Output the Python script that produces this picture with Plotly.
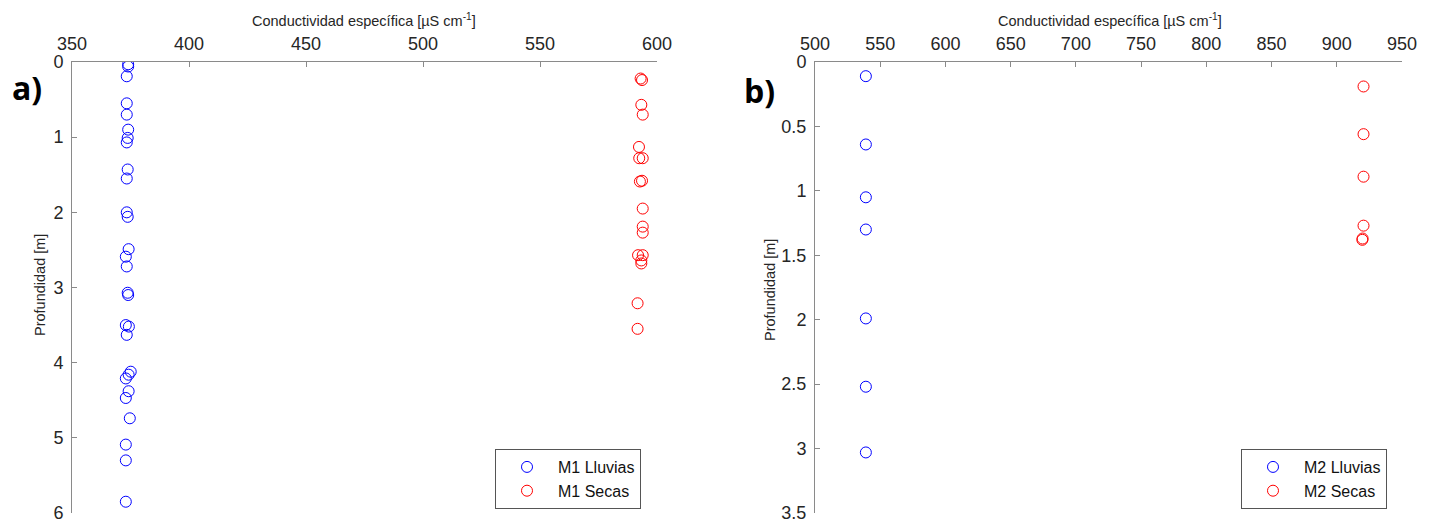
import plotly.graph_objects as go

# ---- Data ----
m1_lluvias_x = [374.0, 374.0, 373.4, 373.4, 373.4, 374.0, 373.8, 373.4, 373.8, 373.4,
                373.4, 373.8, 374.2, 373.0, 373.4, 373.8, 374.0, 373.0, 374.3, 373.4,
                375.1, 374.2, 373.0, 374.2, 373.0, 374.7, 373.0, 373.0, 373.0]
m1_lluvias_y = [0.03, 0.06, 0.19, 0.55, 0.70, 0.90, 1.01, 1.07, 1.43, 1.55,
                2.00, 2.06, 2.49, 2.59, 2.72, 3.07, 3.10, 3.50, 3.52, 3.63,
                4.12, 4.16, 4.21, 4.38, 4.47, 4.74, 5.09, 5.30, 5.85]

m1_secas_x = [593.0, 593.6, 593.3, 593.9, 592.3, 592.4, 593.9, 592.7, 593.6, 593.9,
              593.9, 593.9, 591.9, 593.9, 593.3, 593.3, 591.7, 591.7]
m1_secas_y = [0.22, 0.24, 0.57, 0.70, 1.13, 1.28, 1.28, 1.59, 1.58, 1.95,
              2.19, 2.27, 2.57, 2.57, 2.64, 2.68, 3.21, 3.55]

m2_lluvias_x = [539, 539, 539, 539, 539, 539, 539]
m2_lluvias_y = [0.11, 0.64, 1.05, 1.30, 1.99, 2.52, 3.03]

m2_secas_x = [920.5, 920.5, 920.5, 920.5, 919.8, 919.6]
m2_secas_y = [0.19, 0.56, 0.89, 1.27, 1.37, 1.38]

x1_ticks = [350, 400, 450, 500, 550, 600]
y1_ticks = [0, 1, 2, 3, 4, 5, 6]
x2_ticks = [500, 550, 600, 650, 700, 750, 800, 850, 900, 950]
y2_ticks = [0, 0.5, 1, 1.5, 2, 2.5, 3, 3.5]
y2_labels = ["0", "0.5", "1", "1.5", "2", "2.5", "3", "3.5"]

W, H = 1434, 525
FONT = "Liberation Sans, Arial, sans-serif"
TXT = "#262626"
AX = "#8a8a8a"

def mk(x, y, name, color, xa, ya, legend):
    return go.Scatter(x=x, y=y, mode="markers", name=name, xaxis=xa, yaxis=ya,
                      legend=legend,
                      marker=dict(symbol="circle-open", size=11, color=color,
                                  line=dict(width=1, color=color)))

fig = go.Figure()
fig.add_trace(mk(m1_lluvias_x, m1_lluvias_y, "M1 Lluvias", "rgb(0,0,255)", "x", "y", "legend"))
fig.add_trace(mk(m1_secas_x, m1_secas_y, "M1 Secas", "rgb(255,0,0)", "x", "y", "legend"))
fig.add_trace(mk(m2_lluvias_x, m2_lluvias_y, "M2 Lluvias", "rgb(0,0,255)", "x2", "y2", "legend2"))
fig.add_trace(mk(m2_secas_x, m2_secas_y, "M2 Secas", "rgb(255,0,0)", "x2", "y2", "legend2"))

def px(v):
    return v / W

def py(v):
    return 1 - v / H

xa_common = dict(side="top", showline=True, linecolor=AX, linewidth=1, ticks="inside",
                 ticklen=5, tickcolor=AX, showgrid=False, zeroline=False,
                 ticklabelstandoff=4,
                 tickfont=dict(family=FONT, size=18, color=TXT))
ya_common = dict(showline=True, linecolor=AX, linewidth=1, ticks="inside",
                 ticklen=5, tickcolor=AX, showgrid=False, zeroline=False,
                 ticklabelstandoff=4,
                 tickfont=dict(family=FONT, size=18, color=TXT))

ydom = [py(513), py(62)]
leg_common = dict(xanchor="left", yanchor="top", bgcolor="white", bordercolor="#555",
                  borderwidth=1, itemwidth=52, tracegroupgap=0,
                  font=dict(family=FONT, size=16, color="#111"))
fig.update_layout(
    width=W, height=H,
    margin=dict(l=0, r=0, t=0, b=0, autoexpand=False),
    paper_bgcolor="white", plot_bgcolor="white",
    xaxis=dict(domain=[px(72), px(657)], range=[350, 600], tickvals=x1_ticks,
               anchor="y", **xa_common),
    yaxis=dict(domain=ydom, range=[6, 0], tickvals=y1_ticks, anchor="x", **ya_common),
    xaxis2=dict(domain=[px(815), px(1402)], range=[500, 950], tickvals=x2_ticks,
                anchor="y2", **xa_common),
    yaxis2=dict(domain=ydom, range=[3.5, 0], tickvals=y2_ticks, ticktext=y2_labels,
                anchor="x2", **ya_common),
    legend=dict(x=px(495), y=py(449), **leg_common),
    legend2=dict(x=px(1241), y=py(449), **leg_common),
    showlegend=True,
)

title_txt = "Conductividad específica [µS cm<sup>-1</sup>]"
base = dict(xref="paper", yref="paper", showarrow=False, xanchor="center", yanchor="middle")
ann = [
    dict(text=title_txt, x=px(364), y=py(20), font=dict(family=FONT, size=14.5, color=TXT), **base),
    dict(text=title_txt, x=px(1110), y=py(20), font=dict(family=FONT, size=14.5, color=TXT), **base),
    dict(text="Profundidad [m]", x=px(40), y=py(285), textangle=-90,
         font=dict(family=FONT, size=14.5, color=TXT), **base),
    dict(text="Profundidad [m]", x=px(770), y=py(290), textangle=-90,
         font=dict(family=FONT, size=14.5, color=TXT), **base),
    dict(text="<b>a)</b>", x=px(27), y=py(87),
         font=dict(family="Open Sans, sans-serif", size=32, color="black"), **base),
    dict(text="<b>b)</b>", x=px(759), y=py(90),
         font=dict(family="Open Sans, sans-serif", size=32, color="black"), **base),
]
fig.update_layout(annotations=ann)

fig.write_html("out.html", post_script="document.body.style.margin='0';",
               config={"displayModeBar": False})
